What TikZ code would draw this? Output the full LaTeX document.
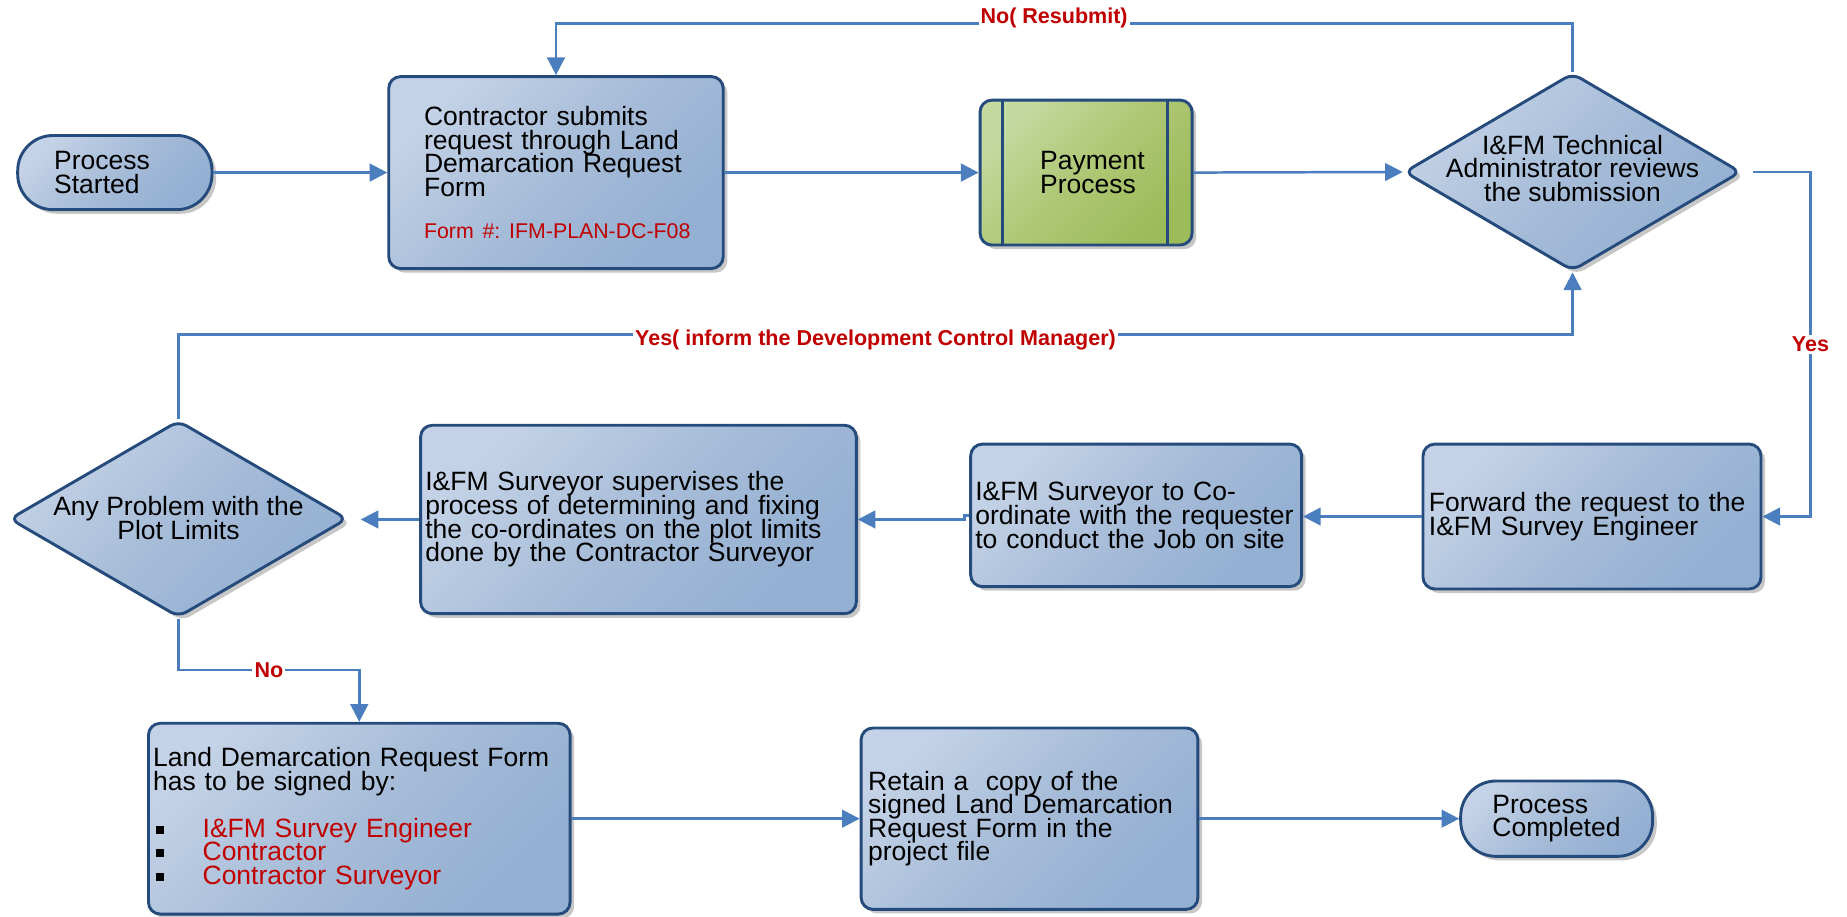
\documentclass[tikz,border=0pt]{standalone}
\usepackage{fontspec}
\setmainfont{Liberation Sans}
\usetikzlibrary{shapes.geometric, arrows.meta, shadows}
\definecolor{boxhi}{HTML}{C3D2E6}
\definecolor{boxmid}{HTML}{A6BCD8}
\definecolor{boxlo}{HTML}{93AFD2}
\definecolor{greenhi}{HTML}{C4D9A0}
\definecolor{greenmid}{HTML}{AEC774}
\definecolor{greenlo}{HTML}{9CBB59}
\definecolor{boxline}{HTML}{254A7C}
\definecolor{flowblue}{HTML}{4A7EBF}
\definecolor{ifmred}{HTML}{C00000}
\newcommand{\flowfont}{\fontsize{12.8}{11.4}\selectfont\lineskiplimit=-20pt\frenchspacing}
\newcommand{\sqbullet}{\makebox[0.84cm][l]{\hspace*{0.04cm}\rule[0.06cm]{0.15cm}{0.14cm}}}

\begin{document}
\begin{tikzpicture}[x=0.02cm, y=-0.02cm, font=\flowfont,
	shapebase/.style={draw=boxline, line width=1.4pt, top color=boxhi, bottom color=boxlo, middle color=boxmid, shading angle=45, drop shadow={shadow xshift=0.07cm, shadow yshift=-0.07cm, fill=black!22, opacity=1}, inner ysep=0pt},
	procbox/.style={shapebase, rectangle, rounded corners=0.2cm, align=left},
	termbox/.style={shapebase, rectangle, rounded corners=0.6cm, align=left},
	decbox/.style={shapebase, diamond, rounded corners=0.15cm, inner sep=0pt},
	flow/.style={draw=flowblue, line width=1.2pt, -{Triangle[length=0.3cm, width=0.3cm]}},
	linelabel/.style={font=\fontsize{10.4}{12}\selectfont\bfseries, text=ifmred, fill=white, inner sep=1pt}]
	\useasboundingbox (0,0) rectangle (1568,778);
	
	% Hàng 1
	\node[termbox, minimum width=3.3cm, minimum height=1.26cm, text width=2.06cm, inner xsep=0.62cm] (start) at (97.5,146.5) {Process\\Started};
	\node[procbox, minimum width=5.68cm, minimum height=3.26cm, text width=4.48cm, inner xsep=0.6cm] (submit) at (472,146.5) {Contractor submits\\request through Land\\Demarcation Request\\Form\\[0.32cm]\mbox{\color{ifmred}\fontsize{10.3}{12}\selectfont Form \#: IFM-PLAN-DC-F08}};
	\node[procbox, top color=greenhi, bottom color=greenlo, middle color=greenmid, shading angle=45, minimum width=3.6cm, minimum height=2.46cm, text width=1.56cm, inner xsep=1.02cm] (pay) at (922,146.5) {Payment\\Process};
	\draw[draw=boxline, line width=1.4pt] ([xshift=0.4cm]pay.north west) -- ([xshift=0.4cm]pay.south west);
	\draw[draw=boxline, line width=1.4pt] ([xshift=-0.44cm]pay.north east) -- ([xshift=-0.44cm]pay.south east);
	\node[decbox, minimum width=5.72cm, minimum height=3.36cm] (review) at (1335,146) {};
	\node[align=center] (reviewtext) at (1335,143) {I\&FM Technical\\Administrator reviews\\the submission};
	
	% Hàng 2
	\node[procbox, minimum width=5.74cm, minimum height=2.46cm, text width=5.54cm, inner xsep=0.1cm] (fwd) at (1351.5,438.5) {Forward the request to the\\I\&FM Survey Engineer};
	\node[procbox, minimum width=5.62cm, minimum height=2.42cm, text width=5.46cm, inner xsep=0.08cm] (coord) at (964.5,437.5) {I\&FM Surveyor to Co-\\ordinate with the requester\\to conduct the Job on site};
	\node[procbox, minimum width=7.4cm, minimum height=3.2cm, text width=7.24cm, inner xsep=0.08cm] (superv) at (542,441) {I\&FM Surveyor supervises the\\process of determining and fixing\\the co-ordinates on the plot limits\\done by the Contractor Surveyor};
	\node[decbox, minimum width=5.74cm, minimum height=3.34cm] (plot) at (151.5,440.5) {};
	\node[align=center] (plottext) at (151.5,440) {Any Problem with the\\Plot Limits};
	
	% Hàng 3
	\node[procbox, minimum width=7.16cm, minimum height=3.24cm, text width=7.0cm, inner xsep=0.08cm] (sign) at (305,695) {Land Demarcation Request Form\\has to be signed by:\\[0.4cm]\sqbullet\textcolor{ifmred}{I\&FM Survey Engineer}\\\sqbullet\textcolor{ifmred}{Contractor}\\\sqbullet\textcolor{ifmred}{Contractor Surveyor}};
	\node[procbox, minimum width=5.72cm, minimum height=3.08cm, text width=5.48cm, inner xsep=0.12cm] (retain) at (874,695) {Retain a\ \ copy of the\\signed Land Demarcation\\Request Form in the\\project file};
	\node[termbox, minimum width=3.26cm, minimum height=1.28cm, text width=2.18cm, inner xsep=0.54cm] (done) at (1321.5,695) {Process\\Completed};
	
	% Mũi tên
	\coordinate (revout) at ([xshift=0.18cm]review.east);
	\coordinate (yesturn) at (1537,146);
	\coordinate (plotin) at ([xshift=0.2cm]plot.east);
	\draw[flow] (start) -- (submit);
	\draw[flow] (submit) -- (pay);
	\draw[flow] (pay.east) -- (review.west);
	\draw[flow] (review.north) -- (review.north |- 0,20) -- node[linelabel, pos=0.51, yshift=0.1cm] (nolabel) {No( Resubmit)} (submit.north |- 0,20) -- (submit.north);
	\draw[flow] (revout) -- (revout -| yesturn) -- node[linelabel] (yeslabel) {Yes} (yesturn |- fwd.east) -- (fwd.east);
	\draw[flow] (fwd.west) -- (fwd.west -| coord.east);
	\draw[flow] (coord.west) -- ++(-4,0) |- (superv.east);
	\draw[flow] (superv.west) -- (superv.west -| plotin);
	\draw[flow] (plot.north) -- (plot.north |- 0,284) -- node[linelabel, yshift=-0.1cm] (informlabel) {Yes( inform the Development Control Manager)} (review.south |- 0,284) -- (review.south);
	\draw[flow] (plot.south) -- (plot.south |- 0,569) -- node[linelabel] (nolabel2) {No} (sign.north |- 0,569) -- (sign.north);
	\draw[flow] (sign) -- (retain);
	\draw[flow] (retain) -- (done);
\end{tikzpicture}
\end{document}
